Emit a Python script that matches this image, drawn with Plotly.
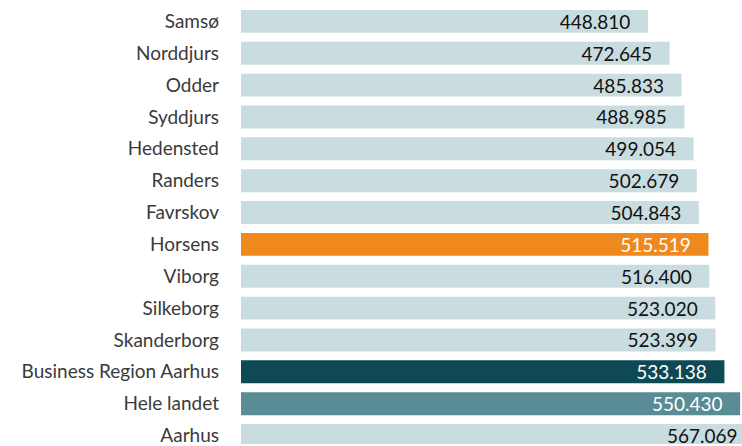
import plotly.graph_objects as go

categories = ["Samsø", "Norddjurs", "Odder", "Syddjurs", "Hedensted", "Randers", "Favrskov",
              "Horsens", "Viborg", "Silkeborg", "Skanderborg", "Business Region Aarhus",
              "Hele landet", "Aarhus"]
values = [448810, 472645, 485833, 488985, 499054, 502679, 504843,
          515519, 516400, 523020, 523399, 533138, 550430, 567069]

LIGHT = "#C9DCE0"
ORANGE = "#F0891D"
DARK = "#0E4955"
MID = "#5A8C95"
special = {"Horsens": ORANGE, "Business Region Aarhus": DARK, "Hele landet": MID}
colors = [special.get(c, LIGHT) for c in categories]
text_colors = ["white" if c in special else "#111111" for c in categories]

fig = go.Figure(go.Bar(
    y=categories, x=values, orientation="h",
    marker=dict(color=colors, line=dict(width=0)),
    texttemplate="%{x:,}\u00a0\u00a0\u00a0",
    textposition="inside", insidetextanchor="end",
    insidetextfont=dict(color=text_colors, size=19, family="Lato"),
    textangle=0, constraintext="none",
    hoverinfo="skip",
))

fig.update_layout(
    width=742, height=446,
    margin=dict(l=241, r=0, t=0, b=0),
    paper_bgcolor="white", plot_bgcolor="white",
    separators=",.",
    bargap=0.28,
    showlegend=False,
    hovermode=False,
    font=dict(family="Lato", color="#3A3A3A"),
)
fig.update_xaxes(range=[0, 552500], visible=False, showgrid=False, zeroline=False)
fig.update_yaxes(type="category", categoryorder="array", categoryarray=categories,
                 range=[13.266, -0.672], showgrid=False, zeroline=False, showline=False,
                 ticks="", ticklabelstandoff=21, tickfont=dict(size=19, family="Lato", color="#3A3A3A"))

fig.write_html("out.html",
               config={"displayModeBar": False, "staticPlot": True},
               post_script="document.body.style.margin='0';document.body.style.overflow='hidden';")
